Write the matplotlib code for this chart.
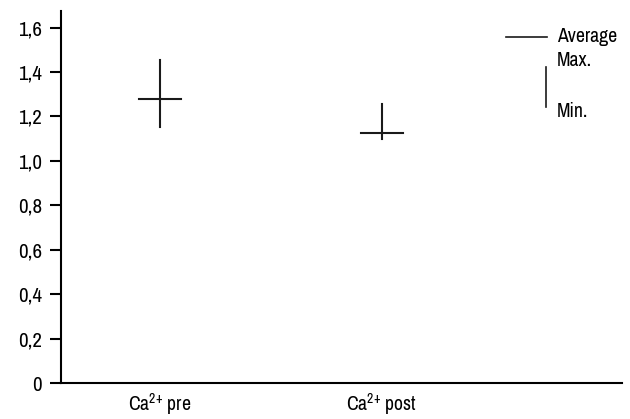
import matplotlib
matplotlib.use("Agg")
import matplotlib.pyplot as plt

# data
groups = [r'Ca$^{2{+}}$ pre', r'Ca$^{2{+}}$ post']
avg_values = [1.278, 1.127]
max_values = [1.455, 1.254]
min_values = [1.151, 1.100]
y_ticks = [0, 0.2, 0.4, 0.6, 0.8, 1.0, 1.2, 1.4, 1.6]
y_tick_labels = ['0', '0,2', '0,4', '0,6', '0,8', '1,0', '1,2', '1,4', '1,6']

fs = 14.2
plt.rcParams['font.family'] = ['Archivo Narrow', 'DejaVu Sans']
plt.rcParams['mathtext.fontset'] = 'custom'
plt.rcParams['mathtext.rm'] = 'Archivo Narrow'
plt.rcParams['mathtext.it'] = 'Archivo Narrow'
plt.rcParams['font.size'] = fs

fig = plt.figure(figsize=(6.3, 4.19), dpi=100)
ax = fig.add_axes([0.0968, 0.0859, 0.89, 0.888])

half_w = 0.095
lw = 1.5
for i in range(len(groups)):
    ax.plot([i, i], [min_values[i], max_values[i]], color='#1a1a1a', lw=lw)
    ax.plot([i - half_w, i + half_w], [avg_values[i], avg_values[i]], color='#1a1a1a', lw=lw)

ax.set_xlim(-0.446, 2.081)
ax.set_ylim(0, 1.675)
ax.set_yticks(y_ticks)
ax.set_yticklabels(y_tick_labels)
ax.set_xticks(range(len(groups)))
ax.set_xticklabels(groups)

ax.spines['top'].set_visible(False)
ax.spines['right'].set_visible(False)
ax.spines['left'].set_linewidth(1.5)
ax.spines['bottom'].set_linewidth(1.5)
ax.tick_params(axis='y', length=8, width=1.5, pad=5.5, labelsize=15)
ax.tick_params(axis='x', length=0, pad=6, labelsize=fs)

# custom legend
ax.plot([0.793, 0.866], [0.931, 0.931], color='#1a1a1a', lw=1.2, transform=ax.transAxes, clip_on=False)
ax.plot([0.8645, 0.8645], [0.742, 0.850], color='#1a1a1a', lw=1.2, transform=ax.transAxes, clip_on=False)
ax.text(0.885, 0.931, 'Average', transform=ax.transAxes, va='center', ha='left', fontsize=fs)
ax.text(0.885, 0.868, 'Max.', transform=ax.transAxes, va='center', ha='left', fontsize=fs)
ax.text(0.885, 0.729, 'Min.', transform=ax.transAxes, va='center', ha='left', fontsize=fs)

fig.savefig('out.png', dpi=100)
